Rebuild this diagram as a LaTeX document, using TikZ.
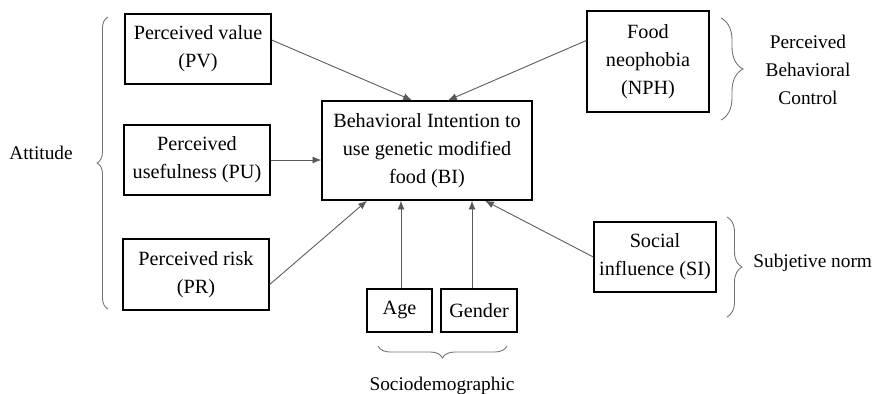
\documentclass[tikz,border=0pt]{standalone}
\usepackage{fontspec}
\setmainfont{Liberation Serif}
\usepackage{tikz}
\usetikzlibrary{positioning,%
  arrows.meta,%
  calc,%
  decorations.pathreplacing}

\begin{document}
\begin{tikzpicture}[x=0.02cm,y=-0.02cm,
    box/.style={draw,line width=0.8pt,align=center,inner sep=2pt,font=\fontsize{11.5}{16}\selectfont},
    link/.style={-{Latex[length=5pt,width=4pt]},draw=black!65,line width=0.5pt},
    curly/.style={decorate,decoration={brace,amplitude=#1},draw=black!55,line width=0.5pt},
    tag/.style={align=center,font=\fontsize{11}{16}\selectfont}]
  \useasboundingbox (0,0) rectangle (875,393);
  \clip (0,0) rectangle (875,393);

  % boxes
  \node[box,minimum width=2.92cm,minimum height=1.4cm] (pv) at (198,49) {Perceived value\\(PV)};
  \node[box,minimum width=2.92cm,minimum height=1.4cm] (pu) at (197,160) {Perceived\\usefulness (PU)};
  \node[box,minimum width=2.92cm,minimum height=1.42cm] (pr) at (196,274.5) {Perceived risk\\(PR)};
  \node[box,minimum width=4.2cm,minimum height=1.98cm] (bi) at (427,150.5) {Behavioral Intention to\\use genetic modified\\food (BI)};
  \node[box,minimum width=2.44cm,minimum height=2.02cm] (nph) at (648,61.5) {Food\\neophobia\\(NPH)};
  \node[box,minimum width=2.44cm,minimum height=1.4cm] (si) at (655,257) {Social\\influence (SI)};
  \node[box,minimum width=1.3cm,minimum height=0.86cm] (age) at (399.5,310.5) {Age};
  \node[box,minimum width=1.52cm,minimum height=0.86cm] (gender) at (479,310.5) {Gender};

  % groups
  \node[tag] (att) at (41,153) {Attitude};
  \node[tag] (pbc) at (808,70) {Perceived\\Behavioral\\Control};
  \node[tag,anchor=west,inner sep=0pt] (sn) at (753,263) {Subjetive norm};
  \node[tag] (soc) at (442,386) {Sociodemographic};

  % arrows
  \draw[link] ([yshift=0.18cm]pv.east) -- ([xshift=-0.3cm]bi.north);
  \draw[link] ([yshift=0.42cm]nph.west) -- ([xshift=0.42cm]bi.north);
  \draw[link] (pu.east) -- (bi.west |- pu.east);
  \draw[link] ([yshift=-0.2cm]pr.east) -- ([xshift=-1.2cm]bi.south);
  \draw[link] ([xshift=0.03cm]age.north) -- ([xshift=0.03cm]age.north |- bi.south);
  \draw[link] ([xshift=-0.14cm]gender.north) -- ([xshift=-0.14cm]gender.north |- bi.south);
  \draw[link] (si.west) -- ([xshift=1.16cm]bi.south);

  % braces
  \draw[curly=0.22cm] (108,309) -- (108,17);
  \draw[curly=0.44cm] (721,18) -- (721,120);
  \draw[curly=0.3cm] (727,217) -- (727,317);
  \draw[curly=0.24cm] (507,346) -- (378,346);
\end{tikzpicture}
\end{document}
